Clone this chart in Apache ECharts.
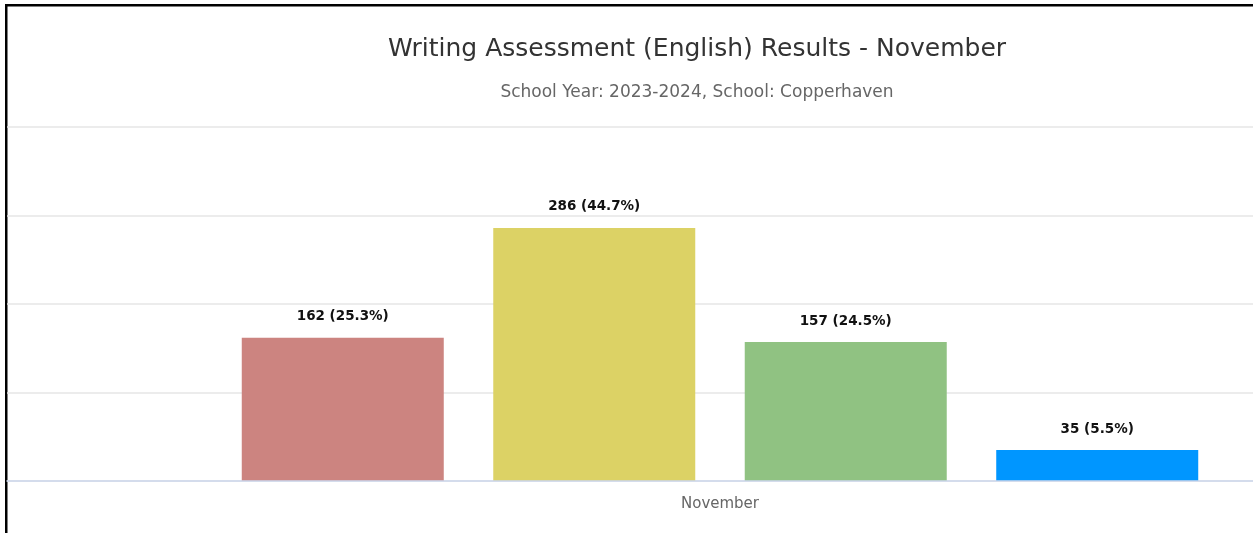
<!DOCTYPE html>
<html>
<head>
<meta charset="utf-8">
<script src="https://cdn.jsdelivr.net/npm/echarts@6/dist/echarts.min.js"></script>
<style>
  html, body { margin: 0; padding: 0; background: #fff; overflow: hidden; }
  #chart { width: 1440px; height: 533px; }
</style>
</head>
<body>
<div id="chart"></div>
<script>
const categories = ['November'];
const seriesNames = ['Level 1', 'Level 2', 'Level 3', 'Level 4'];
const seriesValues = [[162], [286], [157], [35]];
const colors = ['#cc8480', '#dcd265', '#90c282', '#0096ff'];
const yTicks = [0, 100, 200, 300, 400];

const total = seriesValues.reduce((s, v) => s + v[0], 0);
const font = '"DejaVu Sans", sans-serif';

// the chart is wider than the window; the window shows its left part only
const myChart = echarts.init(document.getElementById('chart'), null, { renderer: 'canvas' });

const option = {
  animation: false,
  title: {
    text: 'Writing Assessment (English) Results - November',
    subtext: 'School Year: 2023-2024, School: Copperhaven',
    left: 692,
    top: 32,
    textAlign: 'center',
    itemGap: 22,
    textStyle: { fontFamily: font, fontSize: 25, fontWeight: 'normal', color: '#333333' },
    subtextStyle: { fontFamily: font, fontSize: 17, color: '#666666' }
  },
  grid: { left: 7, top: 127, width: 1426, height: 354, containLabel: false },
  xAxis: {
    type: 'category',
    data: categories,
    z: 5,
    axisLine: { lineStyle: { color: '#ccd6eb', width: 1.5 } },
    axisTick: { show: false },
    axisLabel: { fontFamily: font, fontSize: 15, color: '#666666', margin: 16 }
  },
  yAxis: {
    type: 'value',
    min: yTicks[0],
    max: yTicks[yTicks.length - 1],
    interval: 100,
    axisLabel: { show: false },
    axisLine: { show: false },
    axisTick: { show: false },
    splitLine: { lineStyle: { color: '#e6e6e6', width: 1.5 } }
  },
  series: seriesNames.map((name, i) => ({
    name: name,
    type: 'bar',
    data: seriesValues[i],
    barWidth: 202,
    barGap: '24.5%',
    itemStyle: { color: colors[i] },
    label: {
      show: true,
      position: 'top',
      distance: 14,
      fontFamily: font,
      fontSize: 13.5,
      fontWeight: 'bold',
      color: '#111111',
      formatter: p => p.value + ' (' + (p.value / total * 100).toFixed(1) + '%)'
    }
  })),
  graphic: [
    { type: 'rect', shape: { x: 5, y: 4, width: 1440, height: 2.5 }, style: { fill: '#000' } },
    { type: 'rect', shape: { x: 5, y: 4, width: 2.5, height: 540 }, style: { fill: '#000' } }
  ]
};

myChart.setOption(option);
</script>
</body>
</html>
